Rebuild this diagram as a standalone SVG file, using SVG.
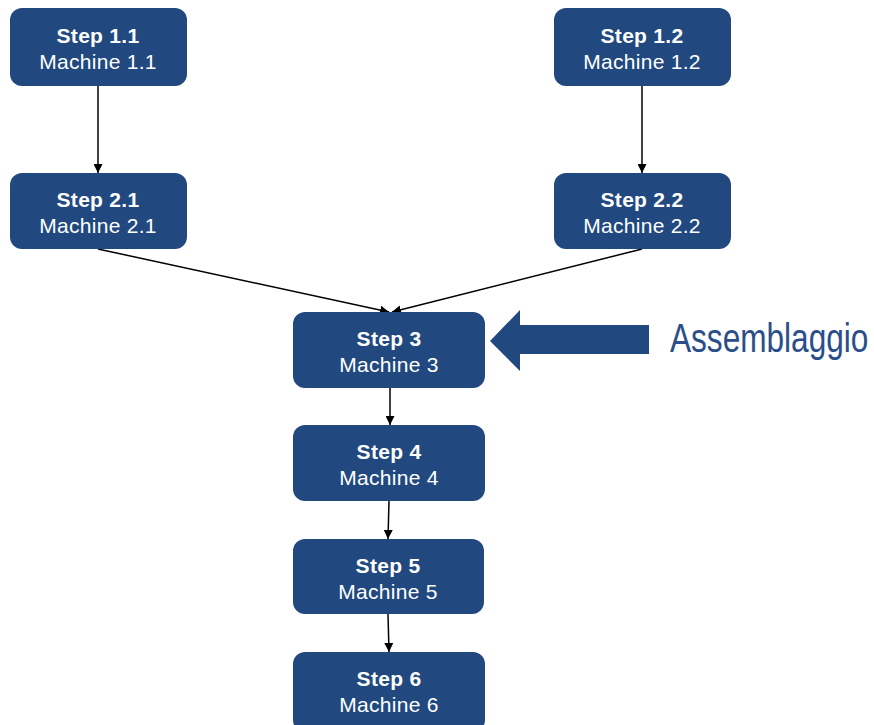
<svg xmlns="http://www.w3.org/2000/svg" width="874" height="725" viewBox="0 0 874 725">
<style>
.box{fill:#21497F;}
.t1{font-family:"Liberation Sans",Arial,sans-serif;font-size:21px;font-weight:bold;fill:#fff;text-anchor:middle;letter-spacing:0.3px;}
.t2{font-family:"Liberation Sans",Arial,sans-serif;font-size:21px;fill:#fff;text-anchor:middle;letter-spacing:0.3px;}
.c{stroke:#000;stroke-width:1.5;fill:none;marker-end:url(#ah);}
</style>
<defs>
<marker id="ah" viewBox="0 0 10 10" refX="10" refY="5" markerWidth="9" markerHeight="9" markerUnits="userSpaceOnUse" orient="auto">
<path d="M0,0 L10,5 L0,10 z" fill="#000"/>
</marker>
</defs>
<rect width="874" height="725" fill="#fff"/>
<g id="connectors">
<line class="c" x1="98" y1="86" x2="98" y2="173"/>
<line class="c" x1="642" y1="86" x2="642" y2="173"/>
<line class="c" x1="98" y1="249" x2="389" y2="312"/>
<line class="c" x1="642" y1="249" x2="392" y2="312"/>
<line class="c" x1="390" y1="388" x2="390" y2="425"/>
<line class="c" x1="389" y1="501" x2="388" y2="539"/>
<line class="c" x1="388" y1="614" x2="389" y2="652"/>
</g>
<g id="n11"><rect class="box" x="10" y="8" width="177" height="78" rx="12"/><text class="t1" x="98" y="43">Step 1.1</text><text class="t2" x="98" y="69">Machine 1.1</text></g>
<g id="n12"><rect class="box" x="554" y="8" width="177" height="78" rx="12"/><text class="t1" x="642" y="43">Step 1.2</text><text class="t2" x="642" y="69">Machine 1.2</text></g>
<g id="n21"><rect class="box" x="10" y="173" width="177" height="76" rx="12"/><text class="t1" x="98" y="207">Step 2.1</text><text class="t2" x="98" y="233">Machine 2.1</text></g>
<g id="n22"><rect class="box" x="554" y="173" width="177" height="76" rx="12"/><text class="t1" x="642" y="207">Step 2.2</text><text class="t2" x="642" y="233">Machine 2.2</text></g>
<g id="n3"><rect class="box" x="293" y="312" width="192" height="76" rx="12"/><text class="t1" x="389" y="346">Step 3</text><text class="t2" x="389" y="372">Machine 3</text></g>
<g id="n4"><rect class="box" x="293" y="425" width="192" height="76" rx="12"/><text class="t1" x="389" y="459">Step 4</text><text class="t2" x="389" y="485">Machine 4</text></g>
<g id="n5"><rect class="box" x="293" y="539" width="191" height="75" rx="12"/><text class="t1" x="388" y="573">Step 5</text><text class="t2" x="388" y="599">Machine 5</text></g>
<g id="n6"><rect class="box" x="293" y="652" width="192" height="80" rx="12"/><text class="t1" x="389" y="686">Step 6</text><text class="t2" x="389" y="712">Machine 6</text></g>
<g id="assemblaggio">
<polygon points="490,341 520,310 520,325 649,325 649,354 520,354 520,371" fill="#21497F"/>
<text transform="translate(670,352) scale(0.79,1)" x="0" y="0" font-family="'Liberation Sans',Arial,sans-serif" font-size="40" fill="#2A4E8A">Assemblaggio</text>
</g>
</svg>
